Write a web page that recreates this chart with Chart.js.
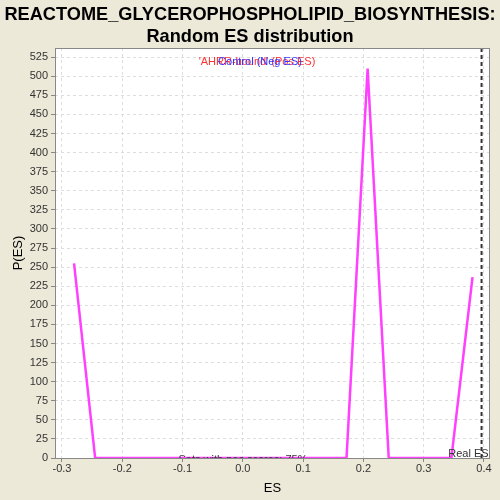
<!DOCTYPE html>
<html>
<head>
<meta charset="utf-8">
<script src="https://cdn.jsdelivr.net/npm/chart.js@4.4.1/dist/chart.umd.min.js"></script>
<style>
  html, body { margin: 0; padding: 0; background: #ECE9D8; }
  #wrap { width: 500px; height: 500px; }
</style>
</head>
<body>
<div id="wrap"><canvas id="esChart" width="500" height="500"></canvas></div>
<script>
// Dữ liệu phân phối ES ngẫu nhiên
const esValues = [-0.280, -0.245, -0.210, -0.176, -0.141, -0.106, -0.071, -0.037, -0.002, 0.033,
                  0.068, 0.102, 0.137, 0.172, 0.207, 0.242, 0.276, 0.311, 0.346, 0.381];
const pValues  = [255, 0, 0, 0, 0, 0, 0, 0, 0, 0,
                  0, 0, 0, 0, 510, 0, 0, 0, 0, 237];
const xTicks = [-0.3, -0.2, -0.1, 0.0, 0.1, 0.2, 0.3, 0.4];
const yTicks = [0, 25, 50, 75, 100, 125, 150, 175, 200, 225, 250, 275, 300, 325, 350, 375, 400, 425, 450, 475, 500, 525];
const realES = 0.396;
const titleLines = ['REACTOME_GLYCEROPHOSPHOLIPID_BIOSYNTHESIS:', 'Random ES distribution'];
const posLabel = "'AHRR-bound' (Pos ES)";
const negLabel = 'Control (Neg ES)';
const posText = 'Sets with pos scores: 75%';

const FONT = '"Liberation Sans", Arial, sans-serif';

// Plugin vẽ nền, tiêu đề, đường Real ES và chú thích
const decorPlugin = {
    id: 'decor',
    beforeDraw(chart) {
        const { ctx, chartArea: a } = chart;
        ctx.save();
        ctx.fillStyle = '#ECE9D8';
        ctx.fillRect(0, 0, chart.width, chart.height);
        ctx.fillStyle = '#FFFFFF';
        ctx.fillRect(a.left, a.top, a.right - a.left, a.bottom - a.top);
        // Tiêu đề
        ctx.fillStyle = '#000';
        ctx.font = 'bold 18.2px ' + FONT;
        ctx.textAlign = 'center';
        ctx.textBaseline = 'alphabetic';
        ctx.fillText(titleLines[0], 250, 20);
        ctx.fillText(titleLines[1], 250, 42);
        ctx.restore();
    },
    afterDatasetsDraw(chart) {
        const { ctx, chartArea: a, scales } = chart;
        const x = scales.x.getPixelForValue(realES);
        ctx.save();
        ctx.beginPath();
        ctx.rect(a.left, a.top, a.right - a.left, a.bottom - a.top);
        ctx.clip();
        ctx.strokeStyle = '#333';
        ctx.lineWidth = 2;
        ctx.setLineDash([4, 3]);
        ctx.beginPath();
        ctx.moveTo(x, a.top);
        ctx.lineTo(x, a.bottom);
        ctx.stroke();
        ctx.setLineDash([]);

        ctx.font = '11px ' + FONT;
        ctx.textAlign = 'right';
        ctx.fillStyle = '#333';
        ctx.fillText('Real ES', x + 7, a.bottom - 1);

        ctx.textAlign = 'center';
        ctx.fillText(posText, 243, a.bottom + 5);

        ctx.fillStyle = '#FF3333';
        ctx.fillText(posLabel, 257, 65);
        ctx.fillStyle = '#3333FF';
        ctx.fillText(negLabel, 260, 65);
        ctx.restore();

        // Viền khung
        ctx.save();
        ctx.strokeStyle = '#888';
        ctx.lineWidth = 1;
        ctx.strokeRect(a.left + 0.5, a.top + 0.5, a.right - a.left - 1, a.bottom - a.top);
        ctx.restore();
    }
};

new Chart(document.getElementById('esChart'), {
    type: 'line',
    data: {
        datasets: [{
            data: esValues.map((v, i) => ({ x: v, y: pValues[i] })),
            borderColor: '#FF40FF',
            borderWidth: 2.5,
            pointRadius: 0,
            tension: 0,
            fill: false
        }]
    },
    options: {
        responsive: false,
        animation: false,
        devicePixelRatio: 1,
        layout: { padding: { top: 48, right: 10, left: 0, bottom: 0 } },
        plugins: { legend: { display: false }, tooltip: { enabled: false } },
        scales: {
            x: {
                type: 'linear',
                min: -0.3116,
                max: 0.4100,
                afterBuildTicks: (s) => { s.ticks = xTicks.map(v => ({ value: v })); },
                afterFit: (s) => { s.height = 42; },
                grid: { color: '#DDDDDD', tickColor: '#888', tickLength: 4, tickBorderDash: [] },
                border: { display: false, dash: [3, 3] },
                ticks: {
                    color: '#333',
                    font: { family: FONT, size: 11 },
                    padding: 0,
                    maxRotation: 0,
                    callback: (v) => v.toFixed(1)
                },
                title: { display: true, text: 'ES', color: '#000', font: { family: FONT, size: 13 }, padding: { top: 4 } }
            },
            y: {
                min: 0,
                max: 537,
                afterBuildTicks: (s) => { s.ticks = yTicks.map(v => ({ value: v })); },
                afterFit: (s) => { s.width = 55; },
                grid: { color: '#DDDDDD', tickColor: '#888', tickLength: 4, tickBorderDash: [] },
                border: { display: false, dash: [3, 3] },
                ticks: {
                    color: '#333',
                    font: { family: FONT, size: 11 },
                    padding: 3,
                    autoSkip: false
                },
                title: { display: true, text: 'P(ES)', color: '#000', font: { family: FONT, size: 13 }, padding: { top: 11, bottom: 0 } }
            }
        }
    },
    plugins: [decorPlugin]
});
</script>
</body>
</html>
